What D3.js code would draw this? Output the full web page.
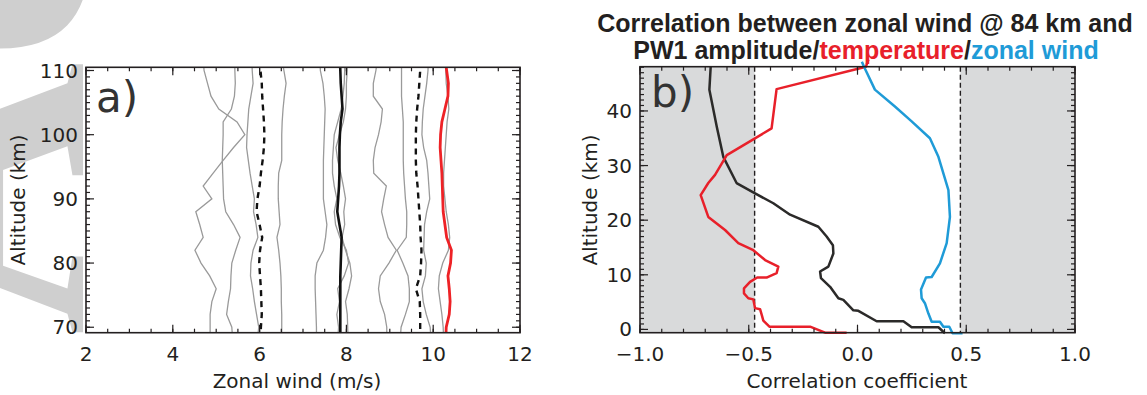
<!DOCTYPE html>
<html>
<head>
<meta charset="utf-8">
<title>Zonal wind and correlation profiles</title>
<script src="https://d3js.org/d3.v7.min.js"></script>
<style>
  body { margin: 0; background: #fff; }
  text { font-family: "DejaVu Sans", sans-serif; fill: #231f20; }
</style>
</head>
<body>
<script>
// ---- panel a) data: zonal wind profiles (m/s) on a 2 km altitude grid ----
const alts = [68, 70, 72, 74, 76, 78, 80, 82, 84, 86, 88, 90, 92, 94, 96, 98, 100, 102, 104, 106, 108, 110, 112];

const greyA = [4.86, 4.86, 4.86, 4.90, 5.00, 4.85, 4.65, 4.51, 4.70, 4.62, 4.53, 4.90, 4.70, 4.93, 5.16, 5.40, 5.66, 5.48, 5.06, 4.88, 4.80, 4.72, 4.70];
const greyB = [5.38, 5.36, 5.24, 5.28, 5.33, 5.34, 5.36, 5.45, 5.55, 5.40, 5.22, 5.17, 5.16, 5.15, 5.14, 5.15, 5.16, 5.16, 5.35, 5.42, 5.44, 5.43, 5.43];
const greyC = [5.95, 5.98, 5.93, 5.88, 5.84, 5.79, 5.80, 5.85, 5.96, 5.92, 5.86, 5.88, 5.83, 5.78, 5.74, 5.70, 5.71, 5.73, 5.75, 5.80, 5.85, 5.83, 5.82];
const greyD = [6.51, 6.51, 6.51, 6.50, 6.50, 6.49, 6.47, 6.44, 6.40, 6.47, 6.45, 6.43, 6.43, 6.44, 6.51, 6.51, 6.51, 6.52, 6.54, 6.57, 6.61, 6.56, 6.51];
const greyE = [7.31, 7.31, 7.30, 7.29, 7.28, 7.28, 7.32, 7.47, 7.52, 7.55, 7.51, 7.47, 7.47, 7.47, 7.47, 7.48, 7.49, 7.50, 7.51, 7.49, 7.46, 7.40, 7.39];
const greyF = [7.80, 7.82, 7.78, 7.84, 7.80, 7.95, 8.05, 8.00, 7.85, 7.75, 7.72, 7.78, 7.72, 7.68, 7.68, 7.70, 7.72, 7.80, 7.88, 7.92, 7.95, 7.96, 7.96];
const greyG = [8.04, 8.03, 8.02, 7.98, 8.06, 8.12, 8.08, 7.98, 7.90, 7.96, 7.94, 7.98, 7.93, 7.87, 7.80, 7.76, 7.84, 7.93, 7.98, 8.00, 8.00, 8.02, 8.02];
const greyH = [8.93, 8.93, 8.88, 8.78, 8.74, 8.78, 8.98, 9.15, 8.96, 8.88, 8.81, 8.86, 8.92, 8.63, 8.62, 8.66, 8.74, 8.80, 8.83, 8.62, 8.62, 8.68, 8.72];
const greyI = [9.24, 9.26, 9.36, 9.45, 9.45, 9.42, 9.30, 9.17, 9.38, 9.39, 9.39, 9.36, 9.34, 9.32, 9.31, 9.31, 9.31, 9.31, 9.29, 9.27, 9.27, 9.27, 9.27];
const greyJ = [9.95, 9.93, 9.84, 9.77, 9.74, 9.82, 9.84, 9.78, 9.79, 9.80, 9.85, 9.92, 9.90, 9.88, 9.85, 9.78, 9.74, 9.75, 9.77, 9.81, 9.85, 9.88, 9.89];
const greyK = [10.24, 10.23, 10.20, 10.16, 10.12, 10.14, 10.22, 10.35, 10.38, 10.35, 10.30, 10.27, 10.24, 10.24, 10.26, 10.28, 10.30, 10.32, 10.36, 10.34, 10.30, 10.29, 10.29];
const dashLow = [6.02, 6.03, 6.05, 6.04, 6.03, 6.01, 5.99, 6.01, 6.06, 6.00, 5.93, 5.95, 6.00, 6.03, 6.07, 6.10, 6.11, 6.10, 6.08, 6.06, 6.05, 6.02, 6.01];
const meanWind = [7.86, 7.86, 7.86, 7.86, 7.86, 7.86, 7.87, 7.88, 7.89, 7.84, 7.79, 7.81, 7.83, 7.84, 7.84, 7.84, 7.85, 7.87, 7.91, 7.89, 7.87, 7.86, 7.85];
const dashHigh = [9.70, 9.70, 9.70, 9.69, 9.60, 9.70, 9.72, 9.73, 9.71, 9.70, 9.68, 9.66, 9.64, 9.61, 9.60, 9.60, 9.60, 9.61, 9.63, 9.66, 9.68, 9.70, 9.70];
const redWind = [10.29, 10.30, 10.37, 10.39, 10.37, 10.34, 10.40, 10.42, 10.31, 10.27, 10.23, 10.22, 10.21, 10.20, 10.18, 10.16, 10.17, 10.20, 10.27, 10.34, 10.35, 10.31, 10.27];

const windTicks = [2, 4, 6, 8, 10, 12];
const altTicks = [70, 80, 90, 100, 110];

// ---- panel b) data: correlation coefficient vs altitude, [r, km] ----
const corrAmp = [[-0.675, 48.1], [-0.681, 43.9], [-0.647, 37.1], [-0.617, 31.6], [-0.556, 26.8], [-0.471, 24.9], [-0.387, 23.1], [-0.31, 21.0], [-0.18, 18.8], [-0.142, 17.0], [-0.113, 15.4], [-0.111, 13.9], [-0.134, 11.5], [-0.172, 10.6], [-0.168, 9.4], [-0.126, 7.8], [-0.088, 5.7], [-0.065, 5.4], [-0.019, 3.5], [0.004, 3.4], [0.088, 1.5], [0.211, 1.5], [0.249, 0.4], [0.372, 0.4], [0.402, -0.7]];
const corrTemp = [[0.05, 49.4], [0.039, 48.1], [-0.372, 44.0], [-0.395, 36.8], [-0.601, 31.9], [-0.655, 28.3], [-0.686, 26.8], [-0.721, 24.6], [-0.686, 20.6], [-0.609, 18.2], [-0.548, 15.8], [-0.479, 14.5], [-0.425, 12.7], [-0.364, 11.5], [-0.372, 10.3], [-0.418, 9.5], [-0.461, 9.5], [-0.494, 8.7], [-0.522, 7.5], [-0.522, 6.6], [-0.502, 5.7], [-0.479, 5.5], [-0.471, 3.9], [-0.448, 3.7], [-0.44, 2.6], [-0.433, 1.6], [-0.405, 0.5], [-0.218, 0.5], [-0.149, -0.6], [-0.05, -0.6]];
const corrWind = [[0.02, 49.0], [0.03, 48.1], [0.08, 43.9], [0.172, 40.8], [0.249, 38.1], [0.333, 35.0], [0.372, 31.6], [0.418, 25.5], [0.425, 20.6], [0.41, 15.8], [0.379, 12.1], [0.341, 9.6], [0.315, 9.5], [0.292, 7.3], [0.295, 5.7], [0.31, 4.8], [0.326, 2.9], [0.341, 1.4], [0.379, 1.4], [0.395, 0.5], [0.422, 0.5], [0.437, -0.7], [0.483, -0.7]];
const sigLevel = 0.473;
const corrTicks = [-1.0, -0.5, 0.0, 0.5, 1.0];
const levelTicks = [0, 10, 20, 30, 40];

const W = 1147, H = 395;
const svg = d3.select("body").append("svg").attr("width", W).attr("height", H);

// faint watermark on the far left (clipped before the first panel)
svg.append("defs").append("clipPath").attr("id", "wm-clip")
  .append("rect").attr("x", 0).attr("y", 0).attr("width", 83).attr("height", H);
svg.append("g").attr("clip-path", "url(#wm-clip)")
  .append("text")
  .attr("transform", "translate(86,336) rotate(-90)")
  .style("font-family", "'Liberation Serif', serif")
  .style("font-weight", "bold")
  .style("font-size", "380px")
  .style("fill", "#cfcfcf")
  .text("Ac");

function drawAxes(g, x, y, xMajor, xMinor, yMajor, yMinor, xFmt) {
  const [x0, x1] = x.range(), [y1, y0] = y.range();
  const ticks = g.append("g").attr("stroke", "#231f20").attr("stroke-width", 1.2);
  const tick = (vals, scale, len, side) => vals.forEach(v => {
    const p = scale(v);
    if (side === "b") ticks.append("line").attr("x1", p).attr("x2", p).attr("y1", y1).attr("y2", y1 - len);
    if (side === "t") ticks.append("line").attr("x1", p).attr("x2", p).attr("y1", y0).attr("y2", y0 + len);
    if (side === "l") ticks.append("line").attr("y1", p).attr("y2", p).attr("x1", x0).attr("x2", x0 + len);
    if (side === "r") ticks.append("line").attr("y1", p).attr("y2", p).attr("x1", x1).attr("x2", x1 - len);
  });
  ["b", "t"].forEach(s => { tick(xMinor, x, 4, s); tick(xMajor, x, 8, s); });
  ["l", "r"].forEach(s => { tick(yMinor, y, 4, s); tick(yMajor, y, 8, s); });

  g.append("rect").attr("x", x0).attr("y", y0).attr("width", x1 - x0).attr("height", y1 - y0)
    .attr("fill", "none").attr("stroke", "#231f20").attr("stroke-width", 1.6);

  g.selectAll(".xl").data(xMajor).join("text")
    .attr("x", d => x(d)).attr("y", y1 + 28)
    .attr("text-anchor", "middle").style("font-size", "20px")
    .text(xFmt);
  g.selectAll(".yl").data(yMajor).join("text")
    .attr("x", x0 - 8).attr("y", d => y(d) + 7)
    .attr("text-anchor", "end").style("font-size", "20px")
    .text(d => d);
}

// ---------------- panel a ----------------
const xa = d3.scaleLinear().domain([2, 12]).range([86, 520]);
const ya = d3.scaleLinear().domain([69.15, 110.5]).range([332.7, 67.3]);
const ga = svg.append("g");
ga.append("rect").attr("x", 86).attr("y", 67.3).attr("width", 434).attr("height", 265.4).attr("fill", "#fff");
ga.append("clipPath").attr("id", "clip-a")
  .append("rect").attr("x", 86).attr("y", 67.3).attr("width", 434).attr("height", 265.4);

const lineA = d3.line().x(d => xa(d[0])).y(d => ya(d[1]));
const prof = vals => vals.map((v, i) => [v, alts[i]]);
const plotA = ga.append("g").attr("clip-path", "url(#clip-a)");
[greyA, greyB, greyC, greyD, greyE, greyF, greyG, greyH, greyI, greyJ, greyK].forEach(s => {
  plotA.append("path").attr("d", lineA(prof(s)))
    .attr("fill", "none").attr("stroke", "#9a9a9a").attr("stroke-width", 1.3);
});
[dashLow, dashHigh].forEach(s => {
  plotA.append("path").attr("d", lineA(prof(s)))
    .attr("fill", "none").attr("stroke", "#111").attr("stroke-width", 2.4)
    .attr("stroke-dasharray", "6,5");
});
plotA.append("path").attr("d", lineA(prof(meanWind)))
  .attr("fill", "none").attr("stroke", "#111").attr("stroke-width", 2.6);
plotA.append("path").attr("d", lineA(prof(redWind)))
  .attr("fill", "none").attr("stroke", "#ee2226").attr("stroke-width", 2.8);

drawAxes(ga, xa, ya, windTicks, d3.range(2, 12.01, 0.5), altTicks, d3.range(70, 110.5, 1), d => d);
ga.append("text").attr("x", 96).attr("y", 112).style("font-size", "42px").style("fill", "#333").text("a)");
ga.append("text").attr("x", 297).attr("y", 388).attr("text-anchor", "middle").style("font-size", "20px").text("Zonal wind (m/s)");
ga.append("text").attr("transform", "translate(25,200) rotate(-90)").attr("text-anchor", "middle")
  .style("font-size", "20px").text("Altitude (km)");

// ---------------- panel b ----------------
const xb = d3.scaleLinear().domain([-1, 1]).range([640, 1075]);
const yb = d3.scaleLinear().domain([-0.6, 48.1]).range([332.7, 66.7]);
const gb = svg.append("g");
gb.append("rect").attr("x", xb(-1)).attr("y", 66.7).attr("width", xb(-sigLevel) - xb(-1)).attr("height", 266).attr("fill", "#d9dadb");
gb.append("rect").attr("x", xb(sigLevel)).attr("y", 66.7).attr("width", xb(1) - xb(sigLevel)).attr("height", 266).attr("fill", "#d9dadb");
[-sigLevel, sigLevel].forEach(v => {
  gb.append("line").attr("x1", xb(v)).attr("x2", xb(v)).attr("y1", 66.7).attr("y2", 332.7)
    .attr("stroke", "#231f20").attr("stroke-width", 1.4).attr("stroke-dasharray", "5,3");
});
const lineB = d3.line().x(d => xb(d[0])).y(d => yb(d[1]));
[[corrAmp, "#2b2a29"], [corrTemp, "#e8202a"], [corrWind, "#1f9bd7"]].forEach(([s, c]) => {
  gb.append("path").attr("d", lineB(s)).attr("fill", "none").attr("stroke", c).attr("stroke-width", 2.5)
    .attr("stroke-linejoin", "round");
});
drawAxes(gb, xb, yb, corrTicks, d3.range(-1, 1.001, 0.1), levelTicks, d3.range(0, 48.5, 1),
  d => d3.format(".1f")(d).replace("-", "\u2212"));
gb.append("text").attr("x", 651).attr("y", 107).style("font-size", "42px").style("fill", "#333").text("b)");
gb.append("text").attr("x", 857).attr("y", 388).attr("text-anchor", "middle").style("font-size", "20px").text("Correlation coefficient");
gb.append("text").attr("transform", "translate(597,200) rotate(-90)").attr("text-anchor", "middle")
  .style("font-size", "20px").text("Altitude (km)");

// title
const title = svg.append("g").style("font-family", "'Liberation Sans', Arial, sans-serif")
  .style("font-weight", "bold").style("font-size", "25px");
title.append("text").attr("x", 865).attr("y", 32).attr("text-anchor", "middle")
  .style("font-family", "inherit").text("Correlation between zonal wind @ 84 km and");
const t2 = title.append("text").attr("x", 866).attr("y", 59).attr("text-anchor", "middle").style("font-family", "inherit");
t2.append("tspan").text("PW1 amplitude/");
t2.append("tspan").style("fill", "#e8202a").text("temperature");
t2.append("tspan").text("/");
t2.append("tspan").style("fill", "#1f9bd7").text("zonal wind");
</script>
</body>
</html>
